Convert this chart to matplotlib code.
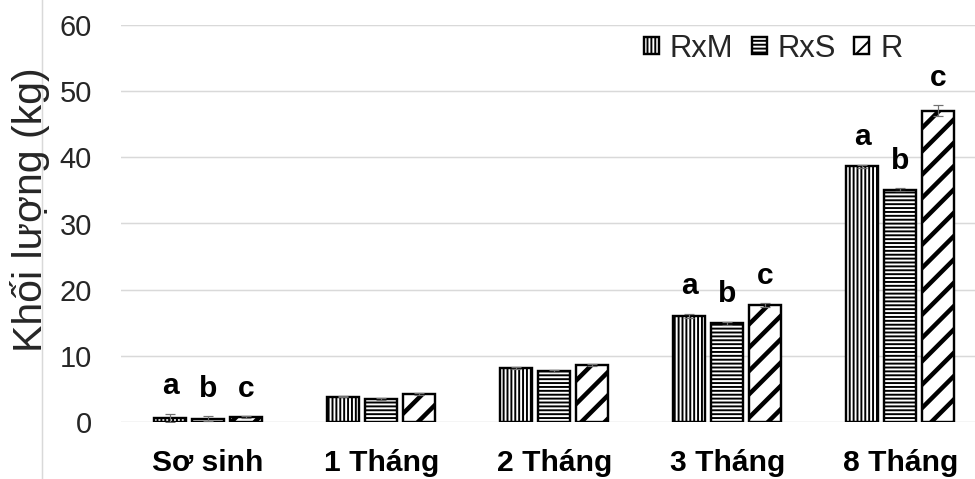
import numpy as np
import matplotlib
matplotlib.use("Agg")
import matplotlib.pyplot as plt
from matplotlib.lines import Line2D

DPI = 140
PX = 72.0 / DPI  # points per pixel

plt.rcParams['font.family'] = ['Liberation Sans', 'DejaVu Sans']

# ---- data ----
categories = ["Sơ sinh", "1 Tháng", "2 Tháng", "3 Tháng", "8 Tháng"]
series_names = ["RxM", "RxS", "R"]
rxm = [0.6, 3.8, 8.1, 16.0, 38.6]
rxs = [0.5, 3.4, 7.7, 14.9, 35.1]
r_pure = [0.7, 4.2, 8.6, 17.6, 47.0]
rxm_err = [0.6, 0.1, 0.15, 0.3, 0.2]
rxs_err = [0.35, 0.15, 0.2, 0.2, 0.2]
r_err = [0.15, 0.1, 0.1, 0.3, 0.8]
letters_rxm = ["a", "", "", "a", "a"]
letters_rxs = ["b", "", "", "b", "b"]
letters_r = ["c", "", "", "c", "c"]
y_ticks = [0, 10, 20, 30, 40, 50, 60]

series = [rxm, rxs, r_pure]
errors = [rxm_err, rxs_err, r_err]
letters = [letters_rxm, letters_rxs, letters_r]
hatches = ["||||||", "------", "//"]
hatch_lw = [1.0, 1.0, 2.3]

W, H = 975, 479
fig = plt.figure(figsize=((W + 0.4) / DPI, (H + 0.4) / DPI), dpi=DPI)
fig.patch.set_facecolor("white")

ax_left, ax_right, ax_top, ax_bottom = 121, 975, 25, 422
ax = fig.add_axes([ax_left / W, 1 - ax_bottom / H,
                   (ax_right - ax_left) / W, (ax_bottom - ax_top) / H])

x = np.arange(len(categories))
bar_w = 0.185
step = 0.22
offsets = [-step, 0, step]

for vals, errs, labs, off, hatch, hlw, name in zip(series, errors, letters, offsets,
                                                    hatches, hatch_lw, series_names):
    bars = ax.bar(x + off, vals, width=bar_w, facecolor="white", edgecolor="black",
                  linewidth=2.4 * PX, hatch=hatch, label=name, zorder=3)
    for b in bars:
        if hasattr(b, "set_hatch_linewidth"):
            b.set_hatch_linewidth(hlw)
    ax.errorbar(x + off, vals, yerr=errs, fmt="none", ecolor="#707070",
                elinewidth=1.2 * PX, capsize=5 * PX, capthick=1.2 * PX, zorder=4)
    for xi, v, e, lab in zip(x + off, vals, errs, labs):
        if lab:
            ax.annotate(lab, (xi, v + e), xytext=(0, 20), textcoords="offset pixels",
                        ha="center", va="baseline", fontsize=30 * PX,
                        fontweight="bold", color="black", zorder=5)

ax.set_xlim(-0.503, 4.434)
ax.set_ylim(0, 60)
ax.set_yticks(y_ticks)
ax.set_xticks(x)
ax.set_xticklabels(categories, fontsize=30 * PX, fontweight="bold")
ax.tick_params(axis="y", length=0, pad=29 * PX, labelsize=29 * PX, labelcolor="#262626")
ax.tick_params(axis="x", length=0, pad=27 * PX)
ax.yaxis.grid(True, color="#d9d9d9", linewidth=1.5 * PX, zorder=0)
ax.set_axisbelow(True)
for s in ax.spines.values():
    s.set_visible(False)

# thin frame line at the left edge of the chart area
fig.add_artist(Line2D([41.5 / W, 41.5 / W], [0, 1], color="#d9d9d9",
                      linewidth=1.5 * PX, transform=fig.transFigure))

fig.text(30 / W, 1 - 210 / H, "Khối lượng (kg)", rotation=90, ha="center", va="center",
         fontsize=41 * PX, color="#262626")

leg = ax.legend(loc="center right", bbox_to_anchor=(902 / W, 1 - 49 / H),
                bbox_transform=fig.transFigure, ncol=3, frameon=False,
                fontsize=31 * PX, handlelength=0.48, handleheight=0.48,
                handletextpad=0.35, columnspacing=0.6, borderpad=0, borderaxespad=0)
for t in leg.get_texts():
    t.set_color("#262626")

fig.savefig("out.png", dpi=DPI, facecolor="white")
